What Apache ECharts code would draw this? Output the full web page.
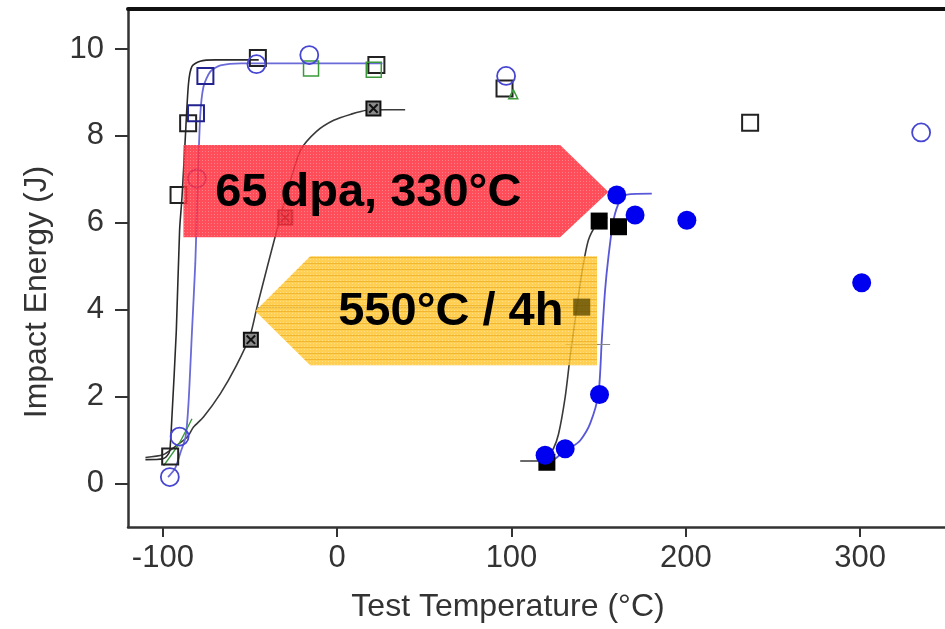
<!DOCTYPE html>
<html>
<head>
<meta charset="utf-8">
<script src="https://cdn.jsdelivr.net/npm/echarts@6/dist/echarts.min.js"></script>
<style>html,body{margin:0;padding:0;background:#fff}#c{width:945px;height:629px}</style>
</head>
<body>
<div id="c"></div>
<script>
// ---- tick labels ----
const xTicks = [-100, 0, 100, 200, 300];
const yTicks = [0, 2, 4, 6, 8, 10];

// ---- measured points (x = test temperature °C, y = impact energy J) ----
const openSquares = [[-95.8, 0.62], [-91.0, 6.64], [-85.5, 8.29], [-45.5, 9.79], [22.5, 9.63], [96.0, 9.09], [236.9, 8.30]];
const navySquares = [[-81.0, 8.52], [-75.6, 9.38]];
const crossSquares = [[-49.5, 3.31], [-29.8, 6.12], [20.8, 8.63]];
const openCircles = [[-96.0, 0.15], [-90.4, 1.08], [-80.5, 7.02], [-46.3, 9.65], [-16.0, 9.86], [96.9, 9.38], [335.0, 8.08]];
const greenSquares = [[-15.0, 9.55], [21.0, 9.52]];
const greenMarks = [[101.0, 8.96]];
const filledSquares = [[120.3, 0.49], [150.3, 6.04], [161.4, 5.91]];
const shadedSquares = [[140.3, 4.06]];
const filledCircles = [[119.3, 0.65], [130.8, 0.80], [150.5, 2.05], [160.4, 6.64], [170.9, 6.18], [200.6, 6.06], [300.9, 4.62]];

// ---- fitted curves ----
const fitBlackLeft = [[-110, 0.55], [-100, 0.57], [-96.5, 0.7], [-95.8, 0.84], [-94.8, 1.53], [-92.3, 3.5], [-90.4, 5.83], [-89.0, 6.6], [-87.2, 7.9], [-85.3, 9.2], [-83.3, 9.6], [-78.6, 9.72], [-70, 9.75], [-45, 9.75]];
const fitBlueLeft = [[-97, 0.15], [-93, 0.35], [-90, 0.7], [-87, 1.07], [-85.3, 1.84], [-83.3, 3.5], [-81.4, 5.06], [-80.3, 6.5], [-78.6, 8.44], [-76.7, 9.13], [-72.8, 9.48], [-67, 9.62], [-55, 9.67], [26, 9.67]];
const fitGradual = [[-110, 0.6], [-100, 0.66], [-93, 0.85], [-86, 1.07], [-82.4, 1.3], [-76.7, 1.53], [-67, 2.07], [-58, 2.7], [-50, 3.4], [-46, 4.06], [-40, 5.0], [-34.6, 5.83], [-28, 6.8], [-21, 7.67], [-12, 8.1], [-2, 8.36], [8, 8.5], [17, 8.59], [28, 8.6], [39, 8.6]];
const fitGreen = [[-99.6, 0.41], [-91, 0.9], [-83.3, 1.49]];
const fitBlackRight = [[105, 0.52], [115, 0.52], [120.3, 0.6], [124, 0.8], [127, 1.14], [130.8, 1.99], [133.6, 2.91], [136.5, 3.76], [140.3, 4.83], [144.1, 5.6], [149, 5.98], [152.7, 6.1], [155, 6.12]];
const fitBlueRight = [[121, 0.45], [126, 0.6], [130.8, 0.76], [135, 0.85], [139.4, 0.99], [145.1, 1.38], [149.9, 2.07], [151.8, 3.3], [153.7, 4.45], [155.6, 5.21], [158.5, 6.06], [162.3, 6.52], [166.2, 6.65], [180.5, 6.67]];
const shiftLine = [[-46, 4.05], [138, 4.05]];
const halfLine = [[131, 3.2], [156.6, 3.2]];

// ---- annotation arrows (data units) ----
const redArrow = [[-88.2, 7.79], [127.9, 7.79], [155.6, 6.71], [127.9, 5.67], [-88.2, 5.67]];
const redText = { text: '65 dpa, 330°C', at: [-70.0, 6.69] };
const yellowArrow = [[-47.0, 3.97], [-15.5, 5.23], [149.1, 5.23], [149.1, 2.72], [-15.5, 2.72]];
const yellowText = { text: '550°C / 4h', at: [0.6, 3.95] };

const FONT = "'Liberation Sans', Arial, Helvetica, sans-serif";

function makePattern(w, h, base, draw) {
  const c = document.createElement('canvas');
  c.width = w; c.height = h;
  const g = c.getContext('2d');
  g.fillStyle = base; g.fillRect(0, 0, w, h);
  draw(g);
  return c;
}
const redPat = makePattern(3, 3, '#ff2e3e', g => { g.fillStyle = '#ff6a74'; g.fillRect(1, 1, 1, 1); });
const yelPat = makePattern(3, 6, '#ffc52e', g => {
  g.fillStyle = '#ffd970'; g.fillRect(1, 1, 1, 1); g.fillRect(1, 4, 1, 1);
  g.fillStyle = '#f0a800'; g.fillRect(0, 5, 3, 1);
});

function arrowSeries(poly, label, pat, opacity) {
  return {
    type: 'custom', z: 10, silent: true, clip: false,
    data: [[0, 0]],
    renderItem: function (params, api) {
      const pts = poly.map(p => api.coord(p));
      const t = api.coord(label.at);
      return {
        type: 'group',
        children: [
          { type: 'polygon', shape: { points: pts }, style: { fill: { image: pat, repeat: 'repeat' }, opacity: opacity } },
          { type: 'text', style: { text: label.text, x: t[0], y: t[1], fill: '#000', fontSize: 47, fontWeight: 'bold', fontFamily: FONT, align: 'left', verticalAlign: 'middle' } }
        ]
      };
    }
  };
}

function line(data, color, width, z) {
  return { type: 'line', data: data, smooth: 0.25, symbol: 'none', z: z || 2, silent: true,
    lineStyle: { color: color, width: width } };
}
function scatter(data, symbol, size, style, z) {
  return { type: 'scatter', data: data, symbol: symbol, symbolSize: size, z: z || 3, silent: true,
    itemStyle: Object.assign({ opacity: 1 }, style) };
}

const chart = echarts.init(document.getElementById('c'), null, { renderer: 'canvas' });
chart.setOption({
  animation: false,
  backgroundColor: '#fff',
  grid: { left: 128, right: 0, top: 9, bottom: 102 },
  xAxis: [{
    type: 'value', min: -120, max: 348.7, position: 'bottom',
    axisLine: { show: true, onZero: false, lineStyle: { color: '#333', width: 2.5 } },
    axisTick: { show: true, customValues: xTicks, length: 10, lineStyle: { color: '#333', width: 2 } },
    axisLabel: { customValues: xTicks, fontSize: 31, color: '#333', margin: 16, fontFamily: FONT },
    splitLine: { show: false }
  }, {
    type: 'value', min: -120, max: 348.7, position: 'top',
    axisLine: { show: true, onZero: false, lineStyle: { color: '#111', width: 4 } },
    axisTick: { show: false }, axisLabel: { show: false }, splitLine: { show: false }
  }],
  yAxis: {
    type: 'value', min: -1, max: 10.92,
    axisLine: { show: true, onZero: false, lineStyle: { color: '#333', width: 2.5 } },
    axisTick: { show: true, customValues: yTicks, length: 13, lineStyle: { color: '#333', width: 2 } },
    axisLabel: { customValues: yTicks, fontSize: 31, color: '#333', margin: 24, fontFamily: FONT },
    splitLine: { show: false }
  },
  graphic: [
    { type: 'text', x: 508, y: 607, style: { text: 'Test Temperature (°C)', fontSize: 32, fill: '#333', fontFamily: FONT, align: 'center', verticalAlign: 'middle' } },
    { type: 'text', x: 37, y: 292, rotation: Math.PI / 2, style: { text: 'Impact Energy (J)', fontSize: 32, fill: '#333', fontFamily: FONT, align: 'center', verticalAlign: 'middle' } }
  ],
  series: [
    line(fitGradual, '#3a3a3a', 1.6),
    line(fitBlackLeft, '#2a2a2a', 1.6),
    line(fitBlueLeft, '#6a6ad8', 1.8),
    line(fitGreen, '#3a9a3a', 1.4),
    line(fitBlackRight, '#3a3a3a', 1.6),
    line(fitBlueRight, '#5858d8', 1.8),
    { type: 'line', data: shiftLine, symbol: 'none', silent: true, lineStyle: { color: '#888', width: 1.2 } },
    { type: 'line', data: halfLine, symbol: 'none', silent: true, lineStyle: { color: '#888', width: 1.2 } },
    scatter(openSquares, 'rect', 16, { color: 'rgba(0,0,0,0)', borderColor: '#222', borderWidth: 2 }),
    scatter(navySquares, 'rect', 16, { color: 'rgba(0,0,0,0)', borderColor: '#23238f', borderWidth: 2 }),
    scatter(greenSquares, 'rect', 15, { color: 'rgba(0,0,0,0)', borderColor: '#3a9a3a', borderWidth: 1.5 }),
    scatter(greenMarks, 'triangle', 9, { color: 'rgba(0,0,0,0)', borderColor: '#3a9a3a', borderWidth: 1.5 }),
    scatter(crossSquares, 'path://M0,0L10,0L10,10L0,10Z M2,2L8,8 M8,2L2,8', 14, { color: '#8a8a8a', borderColor: '#111', borderWidth: 2 }),
    scatter(openCircles, 'circle', 18, { color: 'rgba(0,0,0,0)', borderColor: '#4646d2', borderWidth: 1.8 }),
    scatter(filledSquares, 'rect', 17, { color: '#000' }),
    scatter(filledCircles, 'circle', 19, { color: '#0000f0' }, 4),
    arrowSeries(redArrow, redText, redPat, 0.85),
    arrowSeries(yellowArrow, yellowText, yelPat, 0.82),
    scatter(shadedSquares, 'rect', 17, { color: 'rgba(95,75,0,0.8)' }, 12)
  ]
});
</script>
</body>
</html>
